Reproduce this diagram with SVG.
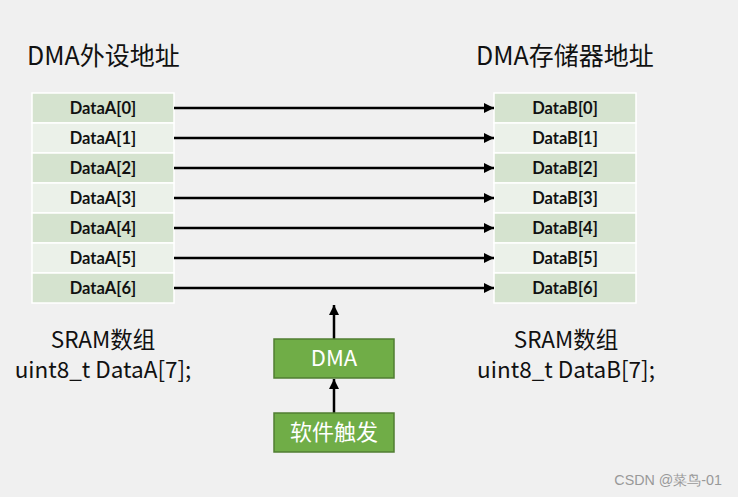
<svg xmlns="http://www.w3.org/2000/svg" width="738" height="497" viewBox="0 0 738 497">
<defs>
<marker id="ah" viewBox="0 0 10 10" refX="10" refY="5" markerWidth="4" markerHeight="4" orient="auto" markerUnits="strokeWidth">
<path d="M0,0 L10,5 L0,10 Z" fill="#000"/>
</marker>
<style>
.odd{fill:#D5E3CF;stroke:#fff;stroke-width:1.5}
.even{fill:#EBF1E9;stroke:#fff;stroke-width:1.5}
.cell{font-family:Lato,"Open Sans",sans-serif;font-weight:bold;font-size:16.5px;fill:#111;text-anchor:middle}
.title{font-family:"Noto Sans CJK SC",sans-serif;font-size:25px;fill:#111}
.cap{font-family:"Noto Sans CJK SC",sans-serif;font-size:22.5px;fill:#111;text-anchor:middle}
.gbox{fill:#70AD47;stroke:#507E32;stroke-width:1.5}
.gtxt{font-family:"Noto Sans CJK SC",sans-serif;font-size:22px;fill:#fff;text-anchor:middle}
.conn{stroke:#000;stroke-width:2.5;fill:none;marker-end:url(#ah)}
</style>
</defs>
<rect width="738" height="497" fill="#F0F0F0"/>
<text class="title" x="27" y="65">DMA外设地址</text>
<text class="title" x="476" y="65">DMA存储器地址</text>
<g id="tableA">
<rect class="odd" x="32" y="93" width="142" height="30"/><text class="cell" x="103" y="114">DataA[0]</text>
<rect class="even" x="32" y="123" width="142" height="30"/><text class="cell" x="103" y="144">DataA[1]</text>
<rect class="odd" x="32" y="153" width="142" height="30"/><text class="cell" x="103" y="174">DataA[2]</text>
<rect class="even" x="32" y="183" width="142" height="30"/><text class="cell" x="103" y="204">DataA[3]</text>
<rect class="odd" x="32" y="213" width="142" height="30"/><text class="cell" x="103" y="234">DataA[4]</text>
<rect class="even" x="32" y="243" width="142" height="30"/><text class="cell" x="103" y="264">DataA[5]</text>
<rect class="odd" x="32" y="273" width="142" height="30"/><text class="cell" x="103" y="294">DataA[6]</text>
</g>
<g id="tableB">
<rect class="odd" x="494" y="93" width="142" height="30"/><text class="cell" x="565" y="114">DataB[0]</text>
<rect class="even" x="494" y="123" width="142" height="30"/><text class="cell" x="565" y="144">DataB[1]</text>
<rect class="odd" x="494" y="153" width="142" height="30"/><text class="cell" x="565" y="174">DataB[2]</text>
<rect class="even" x="494" y="183" width="142" height="30"/><text class="cell" x="565" y="204">DataB[3]</text>
<rect class="odd" x="494" y="213" width="142" height="30"/><text class="cell" x="565" y="234">DataB[4]</text>
<rect class="even" x="494" y="243" width="142" height="30"/><text class="cell" x="565" y="264">DataB[5]</text>
<rect class="odd" x="494" y="273" width="142" height="30"/><text class="cell" x="565" y="294">DataB[6]</text>
</g>
<g id="connectors">
<line class="conn" x1="174" y1="108" x2="494" y2="108"/>
<line class="conn" x1="174" y1="138" x2="494" y2="138"/>
<line class="conn" x1="174" y1="168" x2="494" y2="168"/>
<line class="conn" x1="174" y1="198" x2="494" y2="198"/>
<line class="conn" x1="174" y1="228" x2="494" y2="228"/>
<line class="conn" x1="174" y1="258" x2="494" y2="258"/>
<line class="conn" x1="174" y1="288" x2="494" y2="288"/>
<line class="conn" x1="334" y1="339" x2="334" y2="305"/>
<line class="conn" x1="334" y1="413" x2="334" y2="379"/>
</g>
<g id="capA">
<text class="cap" x="103" y="348">SRAM数组</text>
<text class="cap" x="103" y="378">uint8_t DataA[7];</text>
</g>
<g id="capB">
<text class="cap" x="566" y="348">SRAM数组</text>
<text class="cap" x="566" y="378">uint8_t DataB[7];</text>
</g>
<g id="dma">
<rect class="gbox" x="274" y="339" width="120" height="39"/>
<text class="gtxt" x="334" y="366">DMA</text>
</g>
<g id="trigger">
<rect class="gbox" x="274" y="413" width="120" height="39"/>
<text class="gtxt" x="334" y="440">软件触发</text>
</g>
<text x="722" y="485" font-family="Liberation Sans,sans-serif" font-size="14.3" fill="#999" text-anchor="end">CSDN @菜鸟-01</text>
</svg>
